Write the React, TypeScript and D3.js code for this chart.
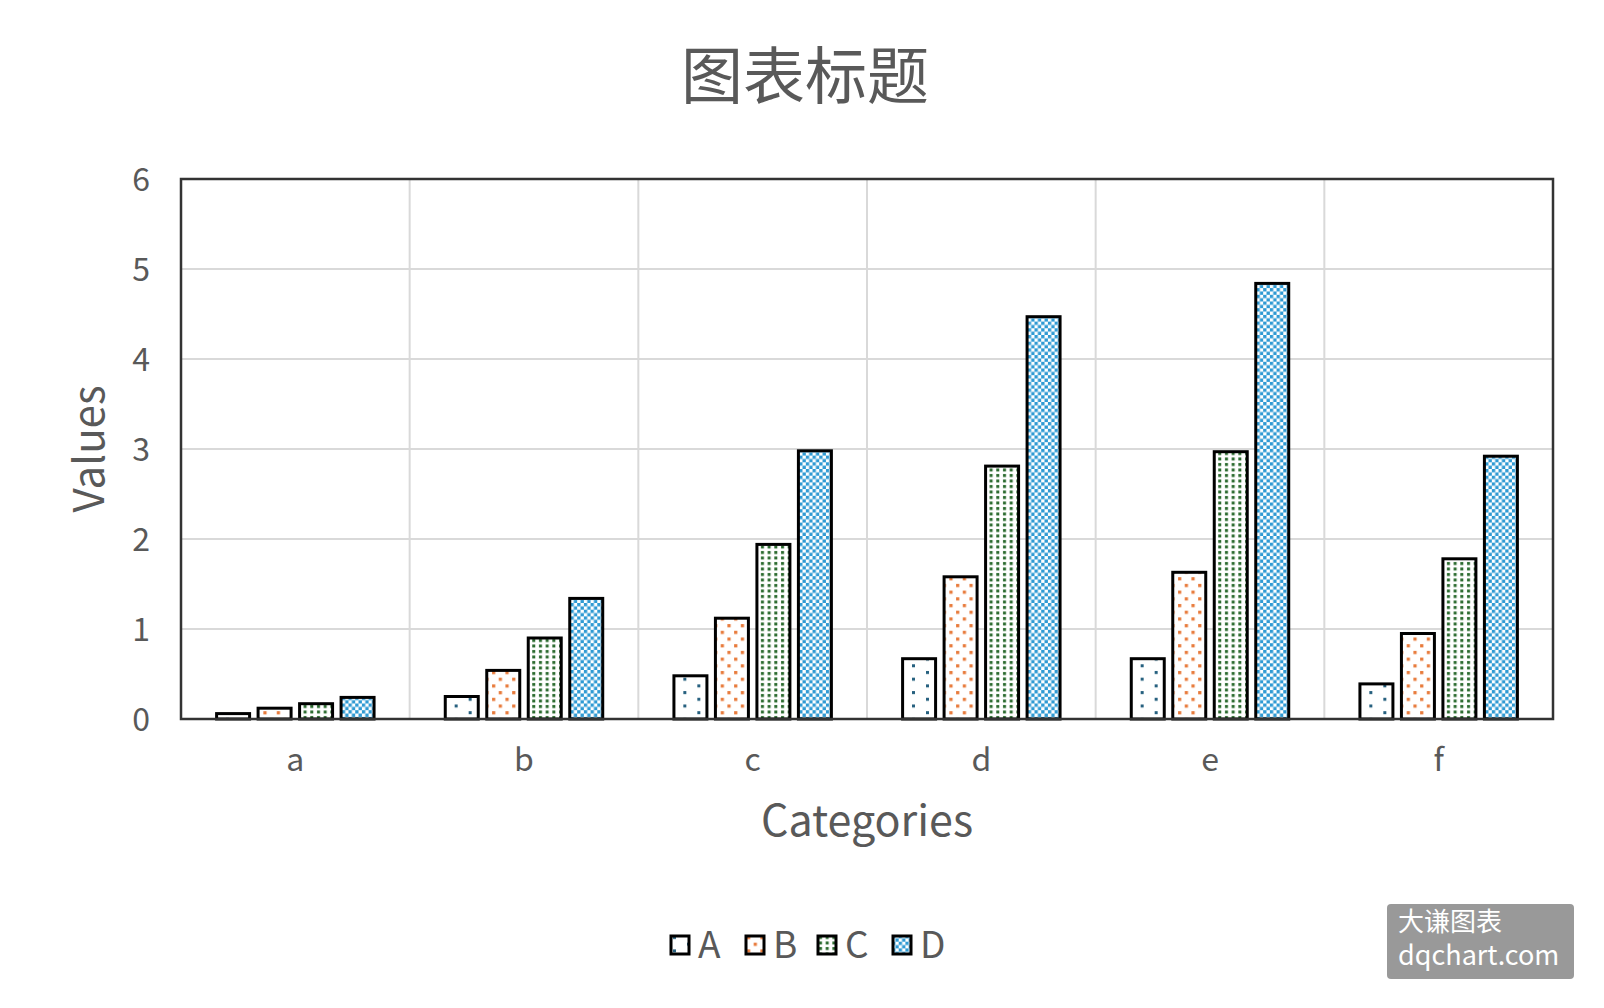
import * as d3 from 'd3';

const categories = ['a', 'b', 'c', 'd', 'e', 'f'];
const seriesNames = ['A', 'B', 'C', 'D'];
const valuesA = [0.06, 0.25, 0.48, 0.67, 0.67, 0.39];
const valuesB = [0.12, 0.54, 1.12, 1.58, 1.63, 0.95];
const valuesC = [0.17, 0.9, 1.94, 2.81, 2.97, 1.78];
const valuesD = [0.24, 1.34, 2.98, 4.47, 4.84, 2.92];
const yTicks = [0, 1, 2, 3, 4, 5, 6];

const seriesValues = [valuesA, valuesB, valuesC, valuesD];
const COLORS = ['#245f7e', '#e87a3a', '#2a6a2e', '#2f9ad3'];

const W = 1604;
const H = 1008;
const plot = { left: 181, right: 1553, top: 179, bottom: 719 };
const FONT = '"Noto Sans CJK SC", "Noto Sans", sans-serif';
const TEXT = '#595959';

function Patterns() {
  return (
    <defs>
      {/* A: sparse staggered dots */}
      <pattern id="pA" patternUnits="userSpaceOnUse" width={28} height={13.4}>
        <rect width={28} height={13.4} fill="#fff" />
        <rect x={3} y={1} width={3} height={3} fill={COLORS[0]} />
        <rect x={17} y={7.7} width={3} height={3} fill={COLORS[0]} />
      </pattern>
      {/* B: staggered dots */}
      <pattern id="pB" patternUnits="userSpaceOnUse" width={13.4} height={13.4}>
        <rect width={13.4} height={13.4} fill="#fff" />
        <rect x={2} y={1} width={3.2} height={3.2} fill={COLORS[1]} />
        <rect x={8.7} y={7.7} width={3.2} height={3.2} fill={COLORS[1]} />
      </pattern>
      {/* C: dense dot grid */}
      <pattern id="pC" patternUnits="userSpaceOnUse" width={6.7} height={5.5}>
        <rect width={6.7} height={5.5} fill="#fff" />
        <rect x={2} y={1} width={3} height={3} fill={COLORS[2]} />
      </pattern>
      {/* D: checker */}
      <pattern id="pD" patternUnits="userSpaceOnUse" width={6.7} height={6.7}>
        <rect width={6.7} height={6.7} fill="#fff" />
        <rect x={0} y={0} width={3.35} height={3.35} fill={COLORS[3]} />
        <rect x={3.35} y={3.35} width={3.35} height={3.35} fill={COLORS[3]} />
      </pattern>
    </defs>
  );
}

export default function App() {
  const x0 = d3.scaleBand<string>().domain(categories).range([plot.left, plot.right]).padding(0);
  const step = x0.bandwidth();
  const outer = 35.6;
  const x1 = d3
    .scaleBand<string>()
    .domain(seriesNames)
    .range([outer, step - outer])
    .paddingInner(0.205)
    .paddingOuter(0);
  const y = d3.scaleLinear().domain([0, 6]).range([plot.bottom, plot.top]);

  const legendX = [670, 745, 817, 892];

  return (
    <svg
      width={W}
      height={H}
      style={{ position: 'absolute', left: 0, top: 0, background: '#fff' }}
      fontFamily={FONT}
    >
      <Patterns />
      <rect width={W} height={H} fill="#fff" />

      {/* title */}
      <text x={805} y={99} textAnchor="middle" fontSize={62} fill={TEXT}>
        图表标题
      </text>

      {/* gridlines */}
      <g stroke="#d9d9d9" strokeWidth={2}>
        {yTicks.slice(1, -1).map(t => (
          <line key={'h' + t} x1={plot.left} x2={plot.right} y1={y(t)} y2={y(t)} />
        ))}
        {categories.slice(1).map(c => (
          <line key={'v' + c} x1={x0(c)!} x2={x0(c)!} y1={plot.top} y2={plot.bottom} />
        ))}
      </g>

      {/* bars */}
      {categories.map((c, ci) => (
        <g key={c} transform={`translate(${x0(c)},0)`}>
          {seriesNames.map((s, si) => {
            const v = seriesValues[si][ci];
            return (
              <rect
                key={s}
                x={x1(s)!}
                y={y(v)}
                width={x1.bandwidth()}
                height={y(0) - y(v)}
                fill={`url(#p${s})`}
                stroke="#000"
                strokeWidth={3}
              />
            );
          })}
        </g>
      ))}

      {/* plot border */}
      <rect
        x={plot.left}
        y={plot.top}
        width={plot.right - plot.left}
        height={plot.bottom - plot.top}
        fill="none"
        stroke="#333"
        strokeWidth={2.5}
      />

      {/* y tick labels */}
      {yTicks.map(t => (
        <text key={t} x={150} y={y(t)} dy="0.36em" textAnchor="end" fontSize={32} fill={TEXT}>
          {t}
        </text>
      ))}

      {/* x tick labels */}
      {categories.map(c => (
        <text key={c} x={x0(c)! + step / 2} y={759} dy="0.36em" textAnchor="middle" fontSize={32} fill={TEXT}>
          {c}
        </text>
      ))}

      {/* axis titles */}
      <text x={(plot.left + plot.right) / 2} y={821} dy="0.36em" textAnchor="middle" fontSize={43} fill={TEXT}>
        Categories
      </text>
      <text
        transform={`translate(89,${(plot.top + plot.bottom) / 2}) rotate(-90)`}
        dy="0.36em"
        textAnchor="middle"
        fontSize={42}
        fill={TEXT}
      >
        Values
      </text>

      {/* legend */}
      {seriesNames.map((s, i) => (
        <g key={s} transform={`translate(${legendX[i]},935)`}>
          <rect x={1} y={1} width={18} height={18} fill={`url(#p${s})`} stroke="#000" strokeWidth={3} />
          <text x={28} y={10} dy="0.36em" fontSize={37} fill={TEXT}>
            {s}
          </text>
        </g>
      ))}

      {/* watermark */}
      <rect x={1387} y={904} width={187} height={75} rx={4} fill="#999" />
      <text x={1398} y={931} fontSize={26} fill="#fff">
        大谦图表
      </text>
      <text x={1398} y={965} fontSize={27} fill="#fff">
        dqchart.com
      </text>
    </svg>
  );
}
